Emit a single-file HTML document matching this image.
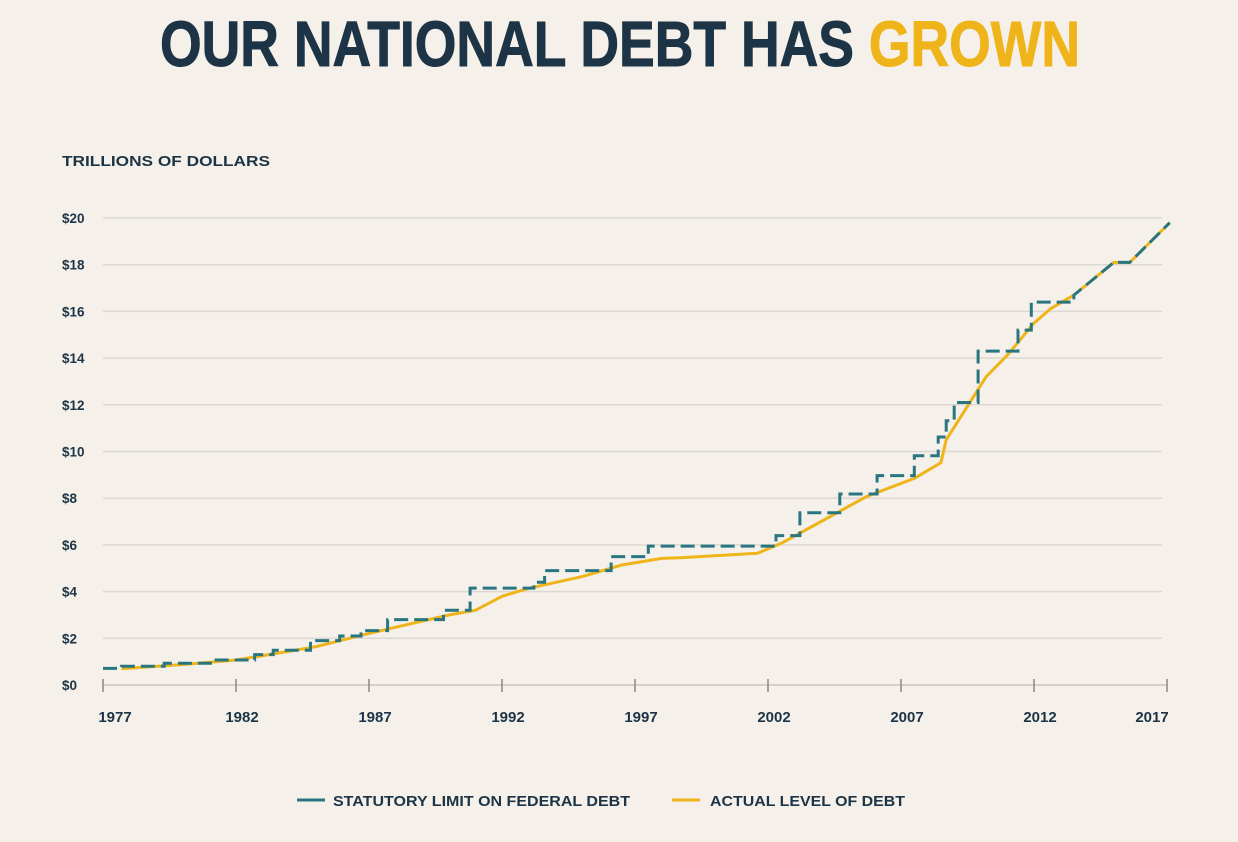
<!DOCTYPE html>
<html><head><meta charset="utf-8"><style>
html,body{margin:0;padding:0;background:#f5f1ea;}
svg{display:block;font-family:"Liberation Sans Narrow","Liberation Sans",sans-serif;}
</style></head><body>
<svg id="chart" width="1238" height="842" viewBox="0 0 1238 842">
<rect width="1238" height="842" fill="#f5f1ea"/>
<text x="160" y="66" font-size="64" font-weight="bold" textLength="920" lengthAdjust="spacingAndGlyphs" fill="#1d3446" stroke="#1d3446" stroke-width="1">OUR NATIONAL DEBT HAS <tspan fill="#f0b41b" stroke="#f0b41b">GROWN</tspan></text>
<text x="62" y="166" font-size="15" font-weight="bold" fill="#1d3446" textLength="208" lengthAdjust="spacingAndGlyphs">TRILLIONS OF DOLLARS</text>
<g id="grid"></g><g id="axis"></g><g id="series"></g>
<g>
<line x1="297" y1="800" x2="325" y2="800" stroke="#2a7680" stroke-width="3"/>
<text x="333" y="806" font-size="15" font-weight="bold" fill="#1d3446" textLength="297" lengthAdjust="spacingAndGlyphs">STATUTORY LIMIT ON FEDERAL DEBT</text>
<line x1="672" y1="800" x2="700" y2="800" stroke="#f0b41b" stroke-width="3"/>
<text x="710" y="806" font-size="15" font-weight="bold" fill="#1d3446" textLength="195" lengthAdjust="spacingAndGlyphs">ACTUAL LEVEL OF DEBT</text>
</g>
</svg>
<script>
const yTicks=[0,2,4,6,8,10,12,14,16,18,20];
const xTicks=[1977,1982,1987,1992,1997,2002,2007,2012,2017];
const limitYears=[1977,1977.7,1979.3,1981.1,1982.7,1983.4,1984.8,1985.9,1986.7,1987.7,1989.8,1990.8,1993.2,1993.6,1996.1,1997.5,2002.3,2003.2,2004.7,2006.1,2007.5,2008.4,2008.7,2009.0,2009.9,2011.4,2011.9,2013.5];
const limitValues=[0.71,0.8,0.93,1.07,1.3,1.49,1.9,2.1,2.33,2.8,3.2,4.15,4.4,4.9,5.5,5.95,6.4,7.38,8.18,8.97,9.82,10.62,11.32,12.1,14.3,15.2,16.4,16.7];
const limitTailYears=[2015.0,2015.6,2017.1];
const limitTailValues=[18.1,18.1,19.8];
const actualYears=[1977.7,1980,1982,1983.5,1985,1987,1990,1991,1992,1993,1995,1996.5,1998,1998.7,2001.6,2002.5,2004,2005.7,2007.5,2008.5,2008.7,2010.2,2011,2012,2012.6,2013.5,2015,2015.6,2017.1];
const actualValues=[0.7,0.88,1.07,1.35,1.64,2.21,3.0,3.2,3.8,4.14,4.64,5.14,5.42,5.45,5.64,6.07,7.0,8.07,8.85,9.52,10.5,13.2,14.13,15.5,16.1,16.7,18.1,18.1,19.8];
const X=y=>103+(y-1977)*(1064/40);
const Y=v=>685-v*(467/20);
const NS="http://www.w3.org/2000/svg";
function mk(tag,attrs,parent){const e=document.createElementNS(NS,tag);for(const k in attrs)e.setAttribute(k,attrs[k]);parent.appendChild(e);return e;}
const grid=document.getElementById('grid'),axis=document.getElementById('axis'),series=document.getElementById('series');
yTicks.forEach(v=>{
 if(v>0){const l=mk('line',{x1:103,x2:1162,y1:Y(v),y2:Y(v),stroke:'#dcd8d1','stroke-width':1.5},grid);
 
 }
 const t=mk('text',{x:62,y:Y(v)+5,'font-size':13.5,'font-weight':'bold',fill:'#1d3446'},axis);t.textContent='$'+v;
 
 
});
const ax=mk('line',{x1:103,x2:1167,y1:685,y2:685,stroke:'#c9c5be','stroke-width':1.5},axis);


xTicks.forEach((yr,i)=>{
 const tk=mk('line',{x1:X(yr),x2:X(yr),y1:679,y2:692,stroke:'#8a8781','stroke-width':1.5},axis);
 
 
 const off=(i===xTicks.length-1)?-15:(i===0?12:6);
 const t=mk('text',{x:X(yr)+off,y:722,'font-size':15,'font-weight':'bold',fill:'#1d3446','text-anchor':'middle'},axis);t.textContent=yr;
 
 
});
let ad='';actualYears.forEach((yr,i)=>{ad+=(i?'L':'M')+X(yr).toFixed(1)+' '+Y(actualValues[i]).toFixed(1);});
const ap=mk('path',{d:ad,fill:'none',stroke:'#f0b41b','stroke-width':3,'stroke-linejoin':'round'},series);


let ld='M'+X(limitYears[0])+' '+Y(limitValues[0]);
for(let i=1;i<limitYears.length;i++){ld+='H'+X(limitYears[i]).toFixed(1)+'V'+Y(limitValues[i]).toFixed(1);}
limitTailYears.forEach((yr,i)=>{ld+='L'+X(yr).toFixed(1)+' '+Y(limitTailValues[i]).toFixed(1);});
const lp=mk('path',{d:ld,fill:'none',stroke:'#2a7680','stroke-width':3,'stroke-dasharray':'14 6'},series);


</script>
</body></html>
